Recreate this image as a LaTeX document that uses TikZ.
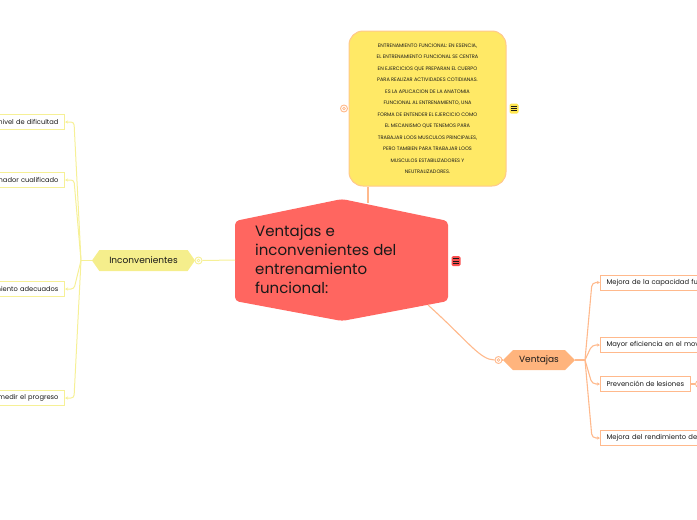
\documentclass[tikz,border=0pt]{standalone}
\usepackage{fontspec}
\setmainfont{Poppins}
\usetikzlibrary{shapes.symbols,arrows.meta}
\definecolor{cred}{RGB}{255,102,96}
\definecolor{credicon}{RGB}{250,80,80}
\definecolor{cyel}{RGB}{255,233,102}
\definecolor{cyelicon}{RGB}{255,230,80}
\definecolor{cyelb}{RGB}{255,200,140}
\definecolor{cinc}{RGB}{245,238,140}
\definecolor{cincl}{RGB}{246,240,150}
\definecolor{cven}{RGB}{255,180,125}
\definecolor{cvenl}{RGB}{255,185,140}
\definecolor{ctext}{RGB}{25,25,25}
\tikzset{
  leafL/.style={anchor=east, draw=cincl, fill=white, line width=1pt, minimum height=15pt,
    inner xsep=6pt, inner ysep=0pt, text width=110pt, align=right,
    font=\fontsize{6.7}{8}\selectfont, text=ctext},
  leafR/.style={anchor=west, draw=cvenl, fill=white, line width=1pt, minimum height=15pt,
    inner xsep=6pt, inner ysep=0pt, text width=120pt, align=left,
    font=\fontsize{6.8}{8}\selectfont, text=ctext},
  leafRs/.style={anchor=west, draw=cvenl, fill=white, line width=1pt, minimum height=15pt,
    inner xsep=6pt, inner ysep=0pt, font=\fontsize{6.8}{8}\selectfont, text=ctext},
  hexnode/.style={signal, signal to=east and west, inner sep=0pt,
    font=\fontsize{9}{10}\selectfont, text=ctext},
  ring/.style={circle, draw=#1, fill=white, line width=0.9pt, minimum size=7pt, inner sep=0pt,
    path picture={\draw[#1, line width=0.6pt] (path picture bounding box.center) circle (1.4pt);}},
  connY/.style={draw=cincl, line width=1pt},
  connO/.style={draw=cvenl, line width=1.1pt},
  tipY/.style={-{Stealth[length=3pt,width=3pt]}},
  iconbox/.style={rectangle, rounded corners=1.5pt, fill=#1, minimum width=9pt, minimum height=10pt, inner sep=0pt,
    path picture={\foreach \d in {-2.3,0,2.3}
      \draw[ctext, line width=0.7pt] ([xshift=-2.6pt,yshift=\d pt]path picture bounding box.center) -- ++(5.2,0);}}
}
\begin{document}
\begin{tikzpicture}[x=1pt,y=-1pt]
\useasboundingbox (0,0) rectangle (697,520);

% yellow description box
\node[draw=cyelb, fill=cyel, line width=1pt, rounded corners=14pt, minimum width=157pt, minimum height=155pt,
      align=center, font=\fontsize{5}{11.5}\selectfont, text=ctext, inner sep=0pt] (yb) at (427.5,108.5)
 {ENTRENAMIENTO FUNCIONAL: EN ESENCIA,\\EL ENTRENAMIENTO FUNCIONAL SE CENTRA\\EN EJERCICIOS QUE PREPARAN EL CUERPO\\PARA REALIZAR ACTIVIDADES COTIDIANAS.\\ES LA APLICACION DE LA ANATOMIA\\FUNCIONAL AL ENTRENAMIENTO, UNA\\FORMA DE ENTENDER EL EJERCICIO COMO\\EL MECANISMO QUE TENEMOS PARA\\TRABAJAR LOOS MUSCULOS PRINCIPALES,\\PERO TAMBIEN PARA TRABAJAR LOOS\\MUSCULOS ESTABILIZADORES Y\\NEUTRALIZADORES.};
\node[ring=cvenl] (ybr) at (344,108.5) {};
\node[iconbox=cyelicon] (ybi) at (514,108.5) {};

% central node shape
\coordinate (ctop) at (368,203);
\coordinate (cl) at (235,260);
\coordinate (cb) at (428,305);
\draw[cvenl, line width=1.1pt] (yb.south -| ctop) -- (ctop);
\fill[cred, rounded corners=4pt] (235,221) -- (342,199) -- (448,221) -- (448,301) -- (342,321) -- (235,301) -- cycle;
\node[anchor=north west, align=left, inner sep=0pt, font=\fontsize{15}{19}\selectfont, text=ctext] (central) at (255,225)
 {Ventajas e\\inconvenientes del\\entrenamiento\\funcional:};
\node[iconbox=credicon] (ci) at (456,261) {};

% Inconvenientes branch
\node[hexnode, fill=cinc, signal pointer angle=110, minimum width=103pt, minimum height=21pt] (inc) at (143.5,260.5) {Inconvenientes};
\node[ring=cincl] (incr) at (198.5,260.5) {};
\draw[connY] (incr.east) -- (cl);
\coordinate (jl) at (81,260.5);
\draw[connY] (inc.west) -- (jl);
\node[leafL] (l1) at (65,122) {nivel de dificultad};
\node[leafL] (l2) at (65,180) {nador cualificado};
\node[leafL] (l3) at (65,289) {miento adecuados};
\node[leafL] (l4) at (65,398) {medir el progreso};
\foreach \n/\yy in {l1/122,l2/180,l3/289,l4/398}
  \draw[connY, tipY, rounded corners=3pt] (jl) -- (74,\yy) -- (\n.east);

% Ventajas branch
\node[ring=cvenl] (venr) at (498.5,360) {};
\draw[connO] (cb) .. controls (468,341) and (480,360) .. (venr.west);
\node[hexnode, fill=cven, signal pointer angle=90, minimum width=72pt, minimum height=20pt] (ven) at (539,360) {Ventajas};
\draw[connO] (venr.east) -- (ven.west);
\coordinate (jr) at (585,360);
\draw[connO] (ven.east) -- (jr);
\node[leafR] (r1) at (600,282.5) {Mejora de la capacidad fu};
\node[leafR] (r2) at (600,345) {Mayor eficiencia en el mov};
\node[leafRs] (r3) at (600,384) {Prevención de lesiones};
\node[leafR] (r4) at (600,438) {Mejora del rendimiento dep};
\foreach \n/\yy in {r1/282.5,r2/345,r3/384,r4/438}
  \draw[connO, tipY, rounded corners=4pt] (jr) -- (592,\yy) -- (\n.west);
\node[ring=cvenl] (r3r) at (699,384) {};
\draw[connO] (r3.east) -- (r3r.west);
\end{tikzpicture}
\end{document}
